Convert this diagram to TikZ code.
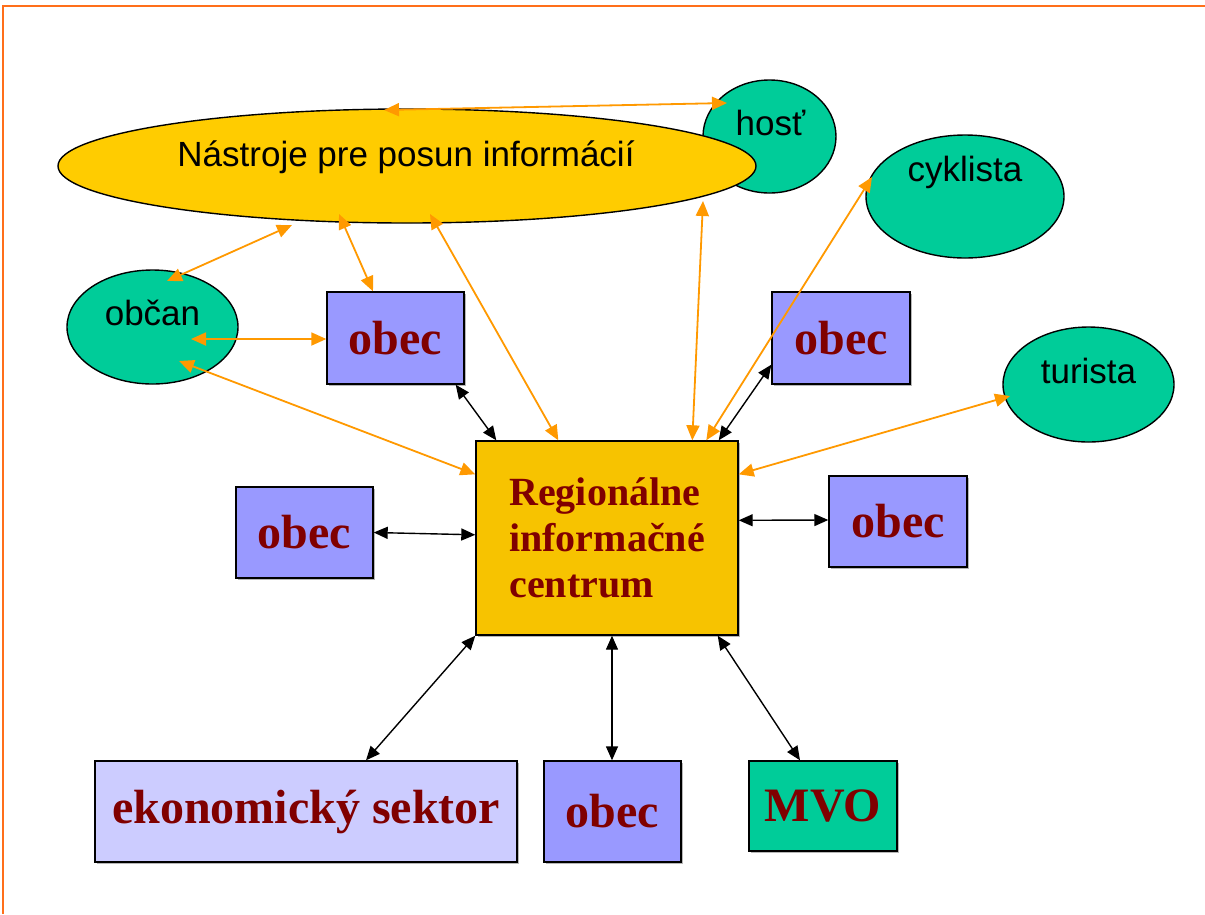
\documentclass[tikz,border=0pt]{standalone}
\usepackage{fontspec}
\setmainfont{Liberation Serif}
\newfontfamily\arialf{Liberation Sans}
\usetikzlibrary{shapes.geometric,arrows.meta,calc,shadows}
\definecolor{ell}{HTML}{FFCC00}
\definecolor{grn}{HTML}{00CC99}
\definecolor{obc}{HTML}{9999FF}
\definecolor{eko}{HTML}{CCCCFF}
\definecolor{ric}{HTML}{F7C300}
\definecolor{dred}{HTML}{800000}
\definecolor{oarrow}{HTML}{FF9900}
\definecolor{frame}{HTML}{FF6F1A}
\begin{document}
\begin{tikzpicture}[x=1pt,y=-1pt,
  oval/.style={ellipse,draw=black,line width=1.4pt,inner sep=0pt},
  ovtxt/.style={anchor=base,inner sep=0pt,font=\arialf\fontsize{35}{40}\selectfont},
  box/.style={rectangle,draw=black,line width=1.4pt,inner sep=0pt,
    drop shadow={shadow xshift=2pt,shadow yshift=-2pt,fill=black!40,opacity=0.7},
    font=\fontsize{48}{52}\selectfont\bfseries,text=dred},
  oarr/.style={draw=oarrow,line width=1.8pt,{Triangle[length=15pt,width=13pt]}-{Triangle[length=15pt,width=13pt]}},
  barr/.style={draw=black,line width=1.4pt,{Triangle[length=14pt,width=12pt]}-{Triangle[length=14pt,width=12pt]}}
]
\useasboundingbox (0,0) rectangle (1205,914);
\fill[white] (0,0) rectangle (1205,914);
% frame
\draw[frame,line width=2pt] (2.5,914) -- (2.5,6) -- (1205,6);

% ellipses
\node[oval,fill=grn,minimum width=133pt,minimum height=113pt] (h) at (769.5,136.5) {};
\node[oval,fill=ell,minimum width=698pt,minimum height=114pt] (e) at (407,166) {};
\node[oval,fill=grn,minimum width=198pt,minimum height=123pt] (cy) at (965,196.5) {};
\node[oval,fill=grn,minimum width=171pt,minimum height=115pt] (t) at (1088.5,384.5) {};
\node[oval,fill=grn,minimum width=171pt,minimum height=114pt] (ob) at (152.5,327) {};

\node[ovtxt] (eT) at ($(e.center)+(-1,0)$) {Nástroje pre posun informácií};
\node[ovtxt] (hT) at ($(h.center)+(1,-1.5)$) {hosť};
\node[ovtxt] (cyT) at ($(cy.center)+(0,-15.5)$) {cyklista};
\node[ovtxt] (tT) at ($(t.center)+(0,-1.5)$) {turista};
\node[ovtxt] (obT) at ($(ob.center)+(0,-2)$) {občan};

% boxes
\node[box,fill=obc,minimum width=137pt,minimum height=92pt] (o1) at (395.5,338) {obec};
\node[box,fill=obc,minimum width=138pt,minimum height=92pt] (o2) at (841,338) {obec};
\node[box,fill=obc,minimum width=137pt,minimum height=91pt] (o3) at (304.5,532.5) {obec};
\node[box,fill=obc,minimum width=138pt,minimum height=91pt] (o4) at (898,521.5) {obec};
\node[box,fill=obc,minimum width=137pt,minimum height=101pt] (o5) at (612.5,811.5) {obec};
\node[box,fill=eko,minimum width=422pt,minimum height=101pt] (ek) at (306,811.5) {ekonomický sektor};
\node[box,fill=grn,minimum width=148pt,minimum height=90pt] (mvo) at (823,806) {MVO};
\node[box,fill=ric,minimum width=262pt,minimum height=194pt,align=left,
  font=\fontsize{40}{46}\selectfont\bfseries] (c) at (607,538) {Regionálne\\informačné\\centrum};

% orange connectors
\draw[oarr] ($(e.center)+(-23,-56)$) -- ($(h.center)+(-42.5,-33.5)$);
\draw[oarr] ($(ob.center)+(14.5,-46)$) -- ($(e.center)+(-115,59)$);
\draw[oarr] ($(e.center)+(-68,48)$) -- ($(o1.north)+(-22.5,0)$);
\draw[oarr] ($(ob.center)+(38.5,12)$) -- ($(o1.west)+(0,1)$);
\draw[oarr] ($(ob.center)+(26.5,34)$) -- ($(c.north west)+(0,34)$);
\draw[oarr] ($(e.center)+(23,48)$) -- ($(c.north west)+(83,0)$);
\draw[oarr] ($(e.center)+(296,35)$) -- ($(c.north west)+(217,0)$);
\draw[oarr] ($(cy.center)+(-93,-19.5)$) -- ($(c.north west)+(231,0)$);
\draw[oarr] ($(t.center)+(-78.5,11.5)$) -- ($(c.north east)+(0,34)$);

% black connectors
\draw[barr] ($(o1.south east)+(-9,0)$) -- ($(c.north west)+(21,0)$);
\draw[barr] ($(o2.south west)+(0,-20)$) -- ($(c.north east)+(-20,0)$);
\draw[barr] (o3.east) -- ($(c.north west)+(0,94.5)$);
\draw[barr] ($(o4.west)+(0,-1.5)$) -- ($(c.north east)+(0,80)$);
\draw[barr] (c.south west) -- ($(ek.north)+(60,0)$);
\draw[barr] ($(c.south)+(5,0)$) -- ($(o5.north)+(-0.5,0)$);
\draw[barr] ($(c.south east)+(-21,0)$) -- ($(mvo.north)+(-23,0)$);
\end{tikzpicture}
\end{document}
